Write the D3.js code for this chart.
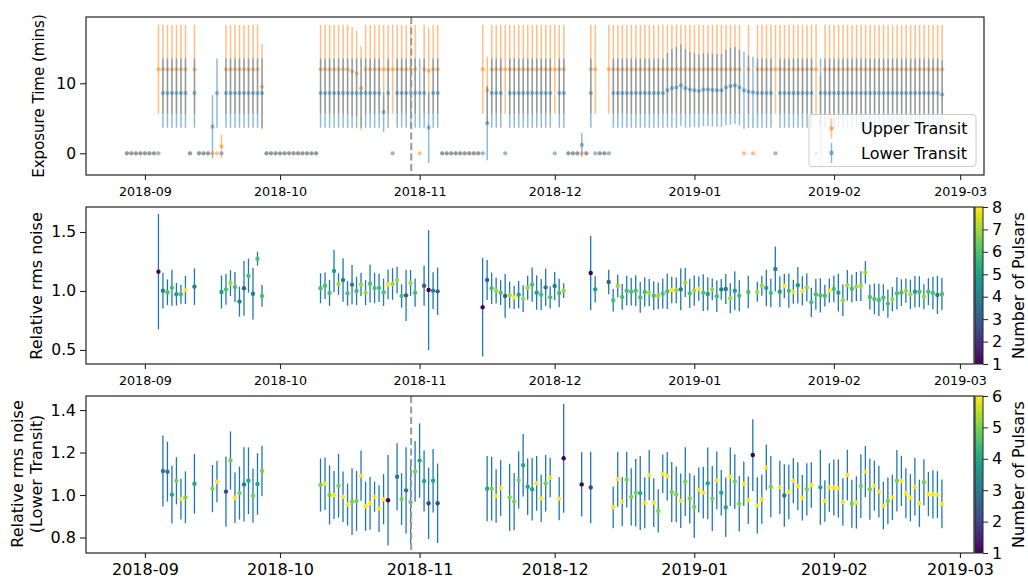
<!DOCTYPE html>
<html><head><meta charset="utf-8">
<script src="https://cdn.jsdelivr.net/npm/d3@7"></script>
<style>
body{margin:0;background:#fff}
svg{display:block}
text{font-family:"DejaVu Sans",sans-serif;fill:#000}
</style>
</head><body>
<svg id="chart" width="1028" height="583"></svg>
<script>
// ---------------- DATA ----------------
// Top panel: one entry per day from 2018-08-28 to 2019-02-25
const topFirstDay = "2018-08-28";
const topLastDay = "2019-02-25";
const upperVal = [
 0,0,0,0,0,0,0,12,12,12,
 12,12,12,12,0,12,0,0,0,0,
 0,1.0,12,12,12,12,12,12,12,12,
 9.5,0,0,0,0,0,0,0,0,0,
 0,0,0,12,12,12,12,12,12,12,
 11.7,11.4,9.3,12,12,12,12,12,12,12,
 12,12,12,12,12,0,12,11.8,12,12,
 0,0,0,0,0,0,0,0,0,12,
 9.0,12,12,12,12,12,12,12,12,12,
 12,12,12,12,12,12,12,12,0,0,
 0,0,0,12,12,0,0,12,12,12,
 12,12,12,12,12,12,12,12,12,12,
 12,12,12,12,12,12,12,12,12,12,
 12,12,12,12,12,12,12,0,12,0,
 12,12,12,12,12,12,12,12,12,12,
 12,12,12,12,4.5,12,12,12,12,12,
 12,12,12,12,12,12,12,12,12,12,
 12,12,12,12,12,12,12,12,12,12,
 12,12];
const upperErr = [
 0,0,0,0,0,0,0,6.35,6.35,6.35,
 6.35,6.35,6.35,6.35,0,6.35,0,0,0,0,
 0,1.7,6.35,6.35,6.35,6.35,6.35,6.35,6.35,6.35,
 6.1,0,0,0,0,0,0,0,0,0,
 0,0,0,6.35,6.35,6.35,6.35,6.35,6.35,6.35,
 6.35,6.1,6.0,6.35,6.35,6.35,6.35,6.35,6.35,6.35,
 6.35,6.35,6.35,6.35,6.35,0,6.35,6.2,6.35,6.35,
 0,0,0,0,0,0,0,0,0,6.35,
 4.8,6.35,6.35,6.35,6.35,6.35,6.35,6.35,6.35,6.35,
 6.35,6.35,6.35,6.35,6.35,6.35,6.35,6.35,0,0,
 0,0,0,6.35,6.35,0,0,6.35,6.35,6.35,
 6.35,6.35,6.35,6.35,6.35,6.35,6.35,6.35,6.35,6.35,
 6.35,6.35,6.35,6.35,6.35,6.35,6.35,6.35,6.35,6.35,
 6.35,6.35,6.35,6.35,6.35,6.35,6.35,0,6.35,0,
 6.35,6.35,6.35,6.35,6.35,6.35,6.35,6.35,6.35,6.35,
 6.35,6.35,6.35,6.35,6.5,6.35,6.35,6.35,6.35,6.35,
 6.35,6.35,6.35,6.35,6.35,6.35,6.35,6.35,6.35,6.35,
 6.35,6.35,6.35,6.35,6.35,6.35,6.35,6.35,6.35,6.35,
 6.35,6.35];
const lowerVal = [
 0,0,0,0,0,0,0,0,8.6,8.6,
 8.6,8.6,8.6,8.6,0,8.6,0,0,0,3.8,
 8.6,0,8.6,8.6,8.6,8.6,8.6,8.6,8.6,8.6,
 8.6,0,0,0,0,0,0,0,0,0,
 0,0,0,8.6,8.6,8.6,8.6,8.6,8.6,8.6,
 8.6,8.6,8.6,8.6,8.6,8.6,8.6,5.9,8.6,0,
 8.6,8.6,8.6,8.6,8.6,8.6,8.6,3.7,8.6,8.6,
 0,0,0,0,0,0,0,0,0,0,
 4.3,8.6,8.6,8.6,0,8.6,8.6,8.6,8.6,8.6,
 8.6,8.6,8.6,8.6,8.6,0,8.6,8.6,0,0,
 0,1.2,0,8.6,0,0,0,0,8.6,8.6,
 8.6,8.6,8.6,8.6,8.6,8.6,8.6,8.6,8.6,8.6,
 9.0,9.3,9.4,9.7,9.3,9.1,9.0,8.9,9.1,9.1,
 9.05,9.0,9.0,9.4,9.6,9.7,9.4,9.0,8.8,8.7,
 8.6,8.6,8.6,8.6,0,8.6,8.6,8.6,8.6,8.6,
 8.6,8.6,8.6,0,8.6,8.6,8.6,8.6,8.6,8.6,
 8.6,8.6,8.6,8.6,8.6,8.6,8.6,8.6,8.6,8.6,
 8.6,8.6,8.6,8.6,8.6,8.6,8.6,8.6,8.6,8.6,
 8.6,8.4];
const lowerErr = [
 0,0,0,0,0,0,0,0,4.95,4.95,
 4.95,4.95,4.95,4.95,0,4.95,0,0,0,4.5,
 4.95,0,4.95,4.95,4.95,4.95,4.95,4.95,4.95,4.95,
 4.95,0,0,0,0,0,0,0,0,0,
 0,0,0,4.95,4.95,4.95,4.95,4.95,4.95,4.95,
 4.95,4.95,4.95,4.95,4.95,4.95,4.95,2.85,4.95,0,
 4.95,4.95,4.95,4.95,4.95,4.95,4.95,5.1,4.95,4.95,
 0,0,0,0,0,0,0,0,0,0,
 5.3,4.95,4.95,4.95,0,4.95,4.95,4.95,4.95,4.95,
 4.95,4.95,4.95,4.95,4.95,0,4.95,4.95,0,0,
 0,1.7,0,4.95,0,0,0,0,4.95,4.95,
 4.95,4.95,4.95,4.95,4.95,4.95,4.95,4.95,4.95,4.95,
 5.3,5.6,5.8,5.8,5.6,5.4,5.3,5.2,5.2,5.2,
 5.2,5.2,5.2,5.4,5.5,5.5,5.4,5.5,5.2,5.1,
 4.95,4.95,4.95,4.95,0,4.95,4.95,4.95,4.95,4.95,
 4.95,4.95,4.95,0,4.95,4.95,4.95,4.95,4.95,4.95,
 4.95,4.95,4.95,4.95,4.95,4.95,4.95,4.95,4.95,4.95,
 4.95,4.95,4.95,4.95,4.95,4.95,4.95,4.95,4.95,4.95,
 4.95,4.9];

// Middle panel: relative rms noise (upper transit)
const midDate = [
 "2018-09-04","2018-09-05","2018-09-06","2018-09-07","2018-09-08","2018-09-09","2018-09-10","2018-09-12",
 "2018-09-18","2018-09-19","2018-09-20","2018-09-21","2018-09-22","2018-09-23","2018-09-24","2018-09-25","2018-09-26","2018-09-27",
 "2018-10-10","2018-10-11","2018-10-12","2018-10-13","2018-10-14","2018-10-15","2018-10-16","2018-10-17","2018-10-18","2018-10-19",
 "2018-10-20","2018-10-21","2018-10-22","2018-10-23","2018-10-24","2018-10-25","2018-10-26","2018-10-27","2018-10-28","2018-10-29",
 "2018-10-30","2018-10-31",
 "2018-11-02","2018-11-03","2018-11-04","2018-11-05",
 "2018-11-15","2018-11-16","2018-11-17","2018-11-18","2018-11-19","2018-11-20","2018-11-21","2018-11-22","2018-11-23","2018-11-24",
 "2018-11-25","2018-11-26","2018-11-27","2018-11-28","2018-11-29","2018-11-30","2018-12-01","2018-12-02","2018-12-03",
 "2018-12-09","2018-12-10","2018-12-13",
 "2018-12-14","2018-12-15","2018-12-16","2018-12-17","2018-12-18","2018-12-19","2018-12-20","2018-12-21","2018-12-22","2018-12-23",
 "2018-12-24","2018-12-25","2018-12-26","2018-12-27","2018-12-28","2018-12-29","2018-12-30","2018-12-31",
 "2019-01-01","2019-01-02","2019-01-03","2019-01-04","2019-01-05","2019-01-06","2019-01-07","2019-01-08","2019-01-09","2019-01-10",
 "2019-01-11","2019-01-13",
 "2019-01-15","2019-01-16","2019-01-17","2019-01-18","2019-01-19","2019-01-20","2019-01-21","2019-01-22","2019-01-23","2019-01-24",
 "2019-01-25","2019-01-26","2019-01-27","2019-01-28","2019-01-29","2019-01-30","2019-01-31",
 "2019-02-01","2019-02-02","2019-02-03","2019-02-04","2019-02-05","2019-02-06","2019-02-07","2019-02-08","2019-02-09","2019-02-10",
 "2019-02-11","2019-02-12","2019-02-13","2019-02-14","2019-02-15","2019-02-16","2019-02-17","2019-02-18","2019-02-19","2019-02-20",
 "2019-02-21","2019-02-22","2019-02-23","2019-02-24","2019-02-25"];
const midVal = [
 1.164,1.003,0.989,1.028,0.972,0.972,1.008,1.037,
 0.992,1.014,1.068,1.034,0.910,1.023,1.130,0.977,1.274,0.958,
 1.023,1.045,0.983,1.169,1.059,1.093,0.980,1.054,1.000,1.054,
 0.986,1.062,1.026,1.026,0.989,1.056,1.059,1.093,0.958,0.963,
 1.068,0.986,
 1.045,1.008,1.003,0.997,
 0.862,1.093,1.023,1.003,0.986,0.958,0.966,0.946,0.969,0.935,
 1.028,1.054,0.986,0.969,1.031,0.946,1.042,0.983,1.003,
 1.153,1.014,1.076,
 0.921,1.042,0.950,1.003,0.994,1.003,0.946,0.992,0.986,0.960,
 0.958,0.978,0.997,1.008,1.005,1.014,1.071,0.980,
 1.003,1.020,0.986,0.975,1.014,0.955,1.014,1.017,0.938,1.003,
 0.960,0.992,
 0.994,1.045,1.026,0.983,1.186,0.994,1.042,1.003,0.994,1.048,
 1.000,1.031,0.904,0.972,0.963,0.960,1.003,
 1.017,0.986,0.921,1.048,1.020,1.037,1.042,1.158,0.950,0.933,
 0.924,0.944,0.893,0.930,0.980,0.986,1.003,0.972,0.994,0.994,
 0.952,0.994,0.983,0.966,0.975];
const midErr = [
 0.489,0.151,0.109,0.153,0.096,0.081,0.119,0.155,
 0.140,0.131,0.110,0.127,0.127,0.232,0.144,0.219,0.059,0.092,
 0.127,0.112,0.110,0.180,0.092,0.184,0.105,0.167,0.120,0.099,
 0.106,0.160,0.129,0.120,0.116,0.127,0.134,0.113,0.099,0.218,
 0.110,0.120,
 0.171,0.508,0.155,0.201,
 0.417,0.169,0.133,0.109,0.105,0.185,0.113,0.099,0.116,0.113,
 0.102,0.145,0.145,0.133,0.160,0.095,0.120,0.121,0.062,
 0.314,0.110,0.103,
 0.095,0.095,0.110,0.126,0.116,0.130,0.131,0.124,0.116,0.123,
 0.113,0.127,0.150,0.113,0.110,0.177,0.123,0.124,
 0.129,0.102,0.155,0.141,0.092,0.134,0.088,0.127,0.127,0.165,
 0.131,0.138,
 0.085,0.085,0.155,0.120,0.191,0.130,0.103,0.145,0.102,0.155,
 0.124,0.117,0.124,0.131,0.145,0.092,0.102,
 0.113,0.160,0.134,0.130,0.117,0.124,0.126,0.095,0.106,0.130,
 0.137,0.113,0.120,0.103,0.137,0.113,0.103,0.124,0.133,0.131,
 0.106,0.114,0.138,0.162,0.138];
const midPulsars = [
 1,4,6,6,5,6,8,4,
 5,6,7,6,4,3,6,4,6,6,
 6,6,6,5,7,4,6,4,6,7,
 7,6,6,6,6,8,7,7,6,3,
 7,6,
 3,1,4,3,
 1,3,6,7,6,3,7,8,5,7,
 7,6,5,6,4,6,4,6,7,
 1,5,3,
 6,7,6,6,6,6,6,6,7,6,
 7,6,6,8,7,4,7,6,
 7,8,6,5,7,6,4,4,7,5,
 6,6,
 7,7,5,6,4,5,8,6,8,5,
 8,7,6,6,6,6,8,
 6,5,7,7,6,7,7,7,6,6,
 6,6,6,7,6,6,7,7,5,6,
 7,6,6,4,6];

// Bottom panel: relative rms noise (lower transit)
const botDate = [
 "2018-09-05","2018-09-06","2018-09-07","2018-09-08","2018-09-09","2018-09-10","2018-09-12","2018-09-16","2018-09-17",
 "2018-09-19","2018-09-20","2018-09-21","2018-09-22","2018-09-23","2018-09-24","2018-09-25","2018-09-26","2018-09-27",
 "2018-10-10","2018-10-11","2018-10-12","2018-10-13","2018-10-14","2018-10-15","2018-10-16","2018-10-17","2018-10-18","2018-10-19",
 "2018-10-20","2018-10-21","2018-10-22","2018-10-23","2018-10-24","2018-10-25",
 "2018-10-27","2018-10-28","2018-10-29","2018-10-30","2018-10-31","2018-11-01","2018-11-02","2018-11-03","2018-11-04","2018-11-05",
 "2018-11-16","2018-11-17","2018-11-18","2018-11-19",
 "2018-11-21","2018-11-22","2018-11-23","2018-11-24","2018-11-25","2018-11-26","2018-11-27","2018-11-28","2018-11-29","2018-11-30",
 "2018-12-02","2018-12-03","2018-12-07","2018-12-09",
 "2018-12-14","2018-12-15","2018-12-16","2018-12-17","2018-12-18","2018-12-19","2018-12-20","2018-12-21","2018-12-22","2018-12-23",
 "2018-12-24","2018-12-25","2018-12-26","2018-12-27","2018-12-28","2018-12-29","2018-12-30","2018-12-31",
 "2019-01-01","2019-01-02","2019-01-03","2019-01-04","2019-01-05","2019-01-06","2019-01-07","2019-01-08","2019-01-09","2019-01-10",
 "2019-01-11","2019-01-12","2019-01-13","2019-01-14","2019-01-15","2019-01-16","2019-01-17","2019-01-18",
 "2019-01-20","2019-01-21","2019-01-22","2019-01-23","2019-01-24","2019-01-25","2019-01-26","2019-01-27",
 "2019-01-29","2019-01-30","2019-01-31",
 "2019-02-01","2019-02-02","2019-02-03","2019-02-04","2019-02-05","2019-02-06","2019-02-07","2019-02-08","2019-02-09","2019-02-10",
 "2019-02-11","2019-02-12","2019-02-13","2019-02-14","2019-02-15","2019-02-16","2019-02-17","2019-02-18","2019-02-19","2019-02-20",
 "2019-02-21","2019-02-22","2019-02-23","2019-02-24","2019-02-25"];
const botVal = [
 1.113,1.110,1.002,1.067,0.981,0.989,1.053,1.030,1.063,
 1.016,1.162,0.987,1.009,1.050,1.067,0.997,1.052,1.113,
 1.047,1.053,1.000,1.000,1.044,0.992,0.955,0.969,0.972,1.091,
 0.947,0.961,0.992,0.936,0.980,0.975,
 1.086,0.981,1.022,0.967,1.111,1.162,1.066,0.961,1.067,0.961,
 1.030,1.030,0.995,1.033,
 0.989,0.969,1.071,1.140,1.039,1.027,1.055,0.984,1.055,1.082,
 0.983,1.173,1.050,1.035,
 0.942,1.074,0.969,1.072,0.991,1.011,1.009,0.964,1.094,0.964,
 0.925,1.100,1.088,1.014,1.003,0.973,1.063,0.984,
 0.945,1.024,1.011,1.055,0.983,1.069,1.011,0.942,1.086,1.063,
 0.959,1.053,0.975,1.188,0.951,0.980,1.130,1.039,
 1.036,0.998,1.014,1.067,1.041,0.987,1.027,1.047,
 1.036,0.972,1.035,
 1.035,1.031,0.967,1.094,0.959,0.965,1.042,1.110,1.027,1.044,
 1.016,0.950,0.972,0.989,1.067,1.066,1.008,0.987,1.039,0.961,
 1.060,1.005,1.003,1.002,0.958];
const botErr = [
 0.167,0.141,0.136,0.111,0.096,0.122,0.141,0.111,0.097,
 0.165,0.137,0.119,0.125,0.175,0.157,0.128,0.145,0.119,
 0.125,0.124,0.139,0.113,0.150,0.119,0.099,0.157,0.141,0.118,
 0.116,0.124,0.071,0.110,0.118,0.213,
 0.158,0.122,0.203,0.200,0.143,0.175,0.144,0.168,0.149,0.187,
 0.153,0.150,0.126,0.131,
 0.158,0.135,0.135,0.147,0.133,0.147,0.129,0.111,0.133,0.093,
 0.102,0.256,0.151,0.168,
 0.098,0.129,0.116,0.131,0.135,0.159,0.174,0.120,0.118,0.115,
 0.102,0.091,0.114,0.141,0.131,0.128,0.162,0.118,
 0.147,0.106,0.122,0.169,0.153,0.136,0.107,0.140,0.138,0.129,
 0.131,0.105,0.112,0.169,0.132,0.115,0.108,0.144,
 0.125,0.147,0.128,0.106,0.113,0.107,0.123,0.107,
 0.176,0.098,0.114,
 0.132,0.137,0.112,0.119,0.113,0.123,0.150,0.121,0.144,0.118,
 0.122,0.112,0.110,0.107,0.145,0.118,0.118,0.111,0.136,0.111,
 0.108,0.104,0.114,0.110,0.115];
const botPulsars = [
 3,3,4,5,6,5,4,5,6,
 2,5,6,5,3,4,5,4,5,
 5,6,5,6,5,6,6,5,5,6,
 6,6,6,6,6,1,
 3,5,3,5,5,4,4,2,4,2,
 4,5,6,6,
 5,5,5,4,4,4,6,6,5,6,
 6,1,1,2,
 6,6,6,5,5,5,4,6,6,6,
 5,6,6,5,5,6,5,5,
 5,6,6,4,5,6,4,4,6,5,
 5,6,6,1,6,6,6,5,
 6,3,6,6,6,6,5,6,
 4,6,6,
 6,6,6,6,5,6,5,6,5,6,
 6,6,5,6,5,6,6,6,6,6,
 5,6,6,6,6];

const markerDate = "2018-10-30T03:00";
const xTickFormat = "%Y-%m";
const topYTicks = [0, 10];
const midYTicks = [0.5, 1.0, 1.5];
const botYTicks = [0.8, 1.0, 1.2, 1.4];
const midCbarTicks = [1,2,3,4,5,6,7,8];
const botCbarTicks = [1,2,3,4,5,6];
const legendLabels = ["Upper Transit", "Lower Transit"];

// ---------------- DRAWING ----------------
const svg = d3.select("#chart");
const parseDay = d3.timeParse("%Y-%m-%d");
const parseDT = d3.timeParse("%Y-%m-%dT%H:%M");
const C_ORANGE = "#ff7f0e", C_BLUE = "#1f77b4";

const topDays = d3.timeDay.range(parseDay(topFirstDay), d3.timeDay.offset(parseDay(topLastDay), 1));

const L = 86;
const panels = {
  top: {top: 17, bottom: 175, right: 984},
  mid: {top: 207, bottom: 364, right: 974},
  bot: {top: 396, bottom: 553, right: 974}
};
const xStart = parseDT("2018-08-18T22:00");
const xTop = d3.scaleTime().domain([xStart, parseDT("2019-03-06T07:00")]).range([L, panels.top.right]);
const xMid = d3.scaleTime().domain([xStart, parseDT("2019-03-04T03:00")]).range([L, panels.mid.right]);
const yTop = d3.scaleLinear().domain([-3.1, 19.47]).range([panels.top.bottom, panels.top.top]);
const yMid = d3.scaleLinear().domain([0.381, 1.712]).range([panels.mid.bottom, panels.mid.top]);
const yBot = d3.scaleLinear().domain([0.727, 1.466]).range([panels.bot.bottom, panels.bot.top]);

function clip(id, p) {
  svg.append("clipPath").attr("id", id).append("rect")
    .attr("x", L).attr("y", p.top).attr("width", p.right - L).attr("height", p.bottom - p.top);
}
clip("cTop", panels.top); clip("cMid", panels.mid); clip("cBot", panels.bot);

function drawAxes(p, x, y, yTicks, yFmt, xFont, yFont, xPad) {
  const gx = svg.append("g").attr("transform", `translate(0,${p.bottom})`)
    .call(d3.axisBottom(x).ticks(d3.timeMonth.every(1)).tickFormat(d3.timeFormat(xTickFormat))
      .tickSize(5).tickSizeOuter(0).tickPadding(xPad));
  gx.select(".domain").remove();
  gx.selectAll("text").style("font-size", xFont + "px").style("font-family", "DejaVu Sans");
  gx.selectAll("line").attr("stroke", "#222").attr("stroke-width", 1.1);
  const gy = svg.append("g").attr("transform", `translate(${L},0)`)
    .call(d3.axisLeft(y).tickValues(yTicks).tickFormat(yFmt).tickSize(6).tickPadding(4));
  gy.select(".domain").remove();
  gy.selectAll("text").style("font-size", yFont + "px").style("font-family", "DejaVu Sans");
  gy.selectAll("line").attr("stroke", "#222").attr("stroke-width", 1.1);
}
function frame(p) {
  svg.append("rect").attr("x", L).attr("y", p.top).attr("width", p.right - L).attr("height", p.bottom - p.top)
    .attr("fill", "none").attr("stroke", "#222").attr("stroke-width", 1.2);
}

// ---- Top panel ----
const gTop = svg.append("g").attr("clip-path", "url(#cTop)");
function transitSeries(vals, errs, color) {
  const g = gTop.append("g");
  const idx = d3.range(topDays.length).filter(i => vals[i] !== null);
  g.selectAll("line").data(idx.filter(i => errs[i] > 0)).join("line")
    .attr("x1", i => xTop(topDays[i])).attr("x2", i => xTop(topDays[i]))
    .attr("y1", i => yTop(vals[i] - errs[i])).attr("y2", i => yTop(vals[i] + errs[i]))
    .attr("stroke", color).attr("stroke-opacity", 0.5).attr("stroke-width", 1.5);
  g.selectAll("circle").data(idx).join("circle")
    .attr("cx", i => xTop(topDays[i])).attr("cy", i => yTop(vals[i])).attr("r", 2.1)
    .attr("fill", color).attr("fill-opacity", 0.5);
}
transitSeries(upperVal, upperErr, C_ORANGE);
transitSeries(lowerVal, lowerErr, C_BLUE);
gTop.append("line").attr("x1", xTop(parseDT(markerDate))).attr("x2", xTop(parseDT(markerDate)))
  .attr("y1", panels.top.top).attr("y2", panels.top.bottom)
  .attr("stroke", "#999").attr("stroke-width", 2).attr("stroke-dasharray", "7,3.5");
drawAxes(panels.top, xTop, yTop, topYTicks, d3.format("d"), 12.7, 15.5, 7);
frame(panels.top);

// legend
const lg = svg.append("g");
lg.append("rect").attr("x", 809).attr("y", 114.5).attr("width", 167).attr("height", 52).attr("rx", 3)
  .attr("fill", "#fff").attr("fill-opacity", 0.8).attr("stroke", "#ccc").attr("stroke-width", 1);
[C_ORANGE, C_BLUE].forEach((c, k) => {
  const cy = 128.5 + k * 24.5;
  lg.append("line").attr("x1", 831.5).attr("x2", 831.5).attr("y1", cy - 10).attr("y2", cy + 10)
    .attr("stroke", c).attr("stroke-opacity", 0.5).attr("stroke-width", 1.5);
  lg.append("circle").attr("cx", 831.5).attr("cy", cy).attr("r", 2.4).attr("fill", c).attr("fill-opacity", 0.5);
  lg.append("text").attr("x", 861).attr("y", cy).attr("dy", "0.36em").style("font-size", "16px").text(legendLabels[k]);
});

// y label
function ylabel(lines, cx, cy, size) {
  const t = svg.append("text").attr("transform", `translate(${cx},${cy}) rotate(-90)`)
    .attr("text-anchor", "middle").style("font-size", size + "px");
  lines.forEach((s, k) => t.append("tspan").attr("x", 0).attr("dy", k === 0 ? "0.35em" : "1.2em").text(s));
}
ylabel(["Exposure Time (mins)"], 39, 96, 15);

// ---- Noise panels ----
function noisePanel(p, clipId, y, dates, vals, errs, nums, nMax) {
  const g = svg.append("g").attr("clip-path", `url(#${clipId})`);
  const xs = dates.map(parseDay);
  const color = d3.scaleSequential(d3.interpolateViridis).domain([1, nMax]);
  g.selectAll("line.e").data(vals).join("line").attr("class", "e")
    .attr("x1", (v, i) => xMid(xs[i])).attr("x2", (v, i) => xMid(xs[i]))
    .attr("y1", (v, i) => y(v - errs[i])).attr("y2", (v, i) => y(v + errs[i]))
    .attr("stroke", C_BLUE).attr("stroke-width", 1.3);
  g.selectAll("circle").data(vals).join("circle")
    .attr("cx", (v, i) => xMid(xs[i])).attr("cy", v => y(v)).attr("r", 2.2)
    .attr("fill", (v, i) => color(nums[i]));
  return g;
}
function colorbar(p, ticks, nMax, id) {
  const grad = svg.append("defs").append("linearGradient").attr("id", id)
    .attr("x1", 0).attr("y1", 1).attr("x2", 0).attr("y2", 0);
  d3.range(0, 1.0001, 0.05).forEach(t => grad.append("stop").attr("offset", t).attr("stop-color", d3.interpolateViridis(t)));
  const x0 = 975, w = 8;
  svg.append("rect").attr("x", x0).attr("y", p.top).attr("width", w).attr("height", p.bottom - p.top)
    .attr("fill", `url(#${id})`).attr("stroke", "#222").attr("stroke-width", 1);
  const cy = d3.scaleLinear().domain([1, nMax]).range([p.bottom, p.top]);
  const ga = svg.append("g").attr("transform", `translate(${x0 + w},0)`)
    .call(d3.axisRight(cy).tickValues(ticks).tickFormat(d3.format("d")).tickSize(5).tickSizeOuter(0).tickPadding(4));
  ga.select(".domain").remove();
  ga.selectAll("text").style("font-size", "16px").style("font-family", "DejaVu Sans");
  ga.selectAll("line").attr("stroke", "#222");
  svg.append("text").attr("transform", `translate(1018,${(p.top + p.bottom) / 2}) rotate(-90)`)
    .attr("text-anchor", "middle").attr("dy", "0.35em").style("font-size", "16px").text("Number of Pulsars");
}

noisePanel(panels.mid, "cMid", yMid, midDate, midVal, midErr, midPulsars, 8);
drawAxes(panels.mid, xMid, yMid, midYTicks, d3.format(".1f"), 12.7, 15.5, 7);
frame(panels.mid);
colorbar(panels.mid, midCbarTicks, 8, "gMid");
ylabel(["Relative rms noise"], 36, 286, 16);

const gB = noisePanel(panels.bot, "cBot", yBot, botDate, botVal, botErr, botPulsars, 6);
gB.append("line").attr("x1", xMid(parseDT(markerDate))).attr("x2", xMid(parseDT(markerDate)))
  .attr("y1", panels.bot.top).attr("y2", panels.bot.bottom)
  .attr("stroke", "#999").attr("stroke-width", 2).attr("stroke-dasharray", "7,3.5");
drawAxes(panels.bot, xMid, yBot, botYTicks, d3.format(".1f"), 16, 16, 6);
frame(panels.bot);
colorbar(panels.bot, botCbarTicks, 6, "gBot");
ylabel(["Relative rms noise", "(Lower Transit)"], 17, 474, 16);
</script>
</body></html>
